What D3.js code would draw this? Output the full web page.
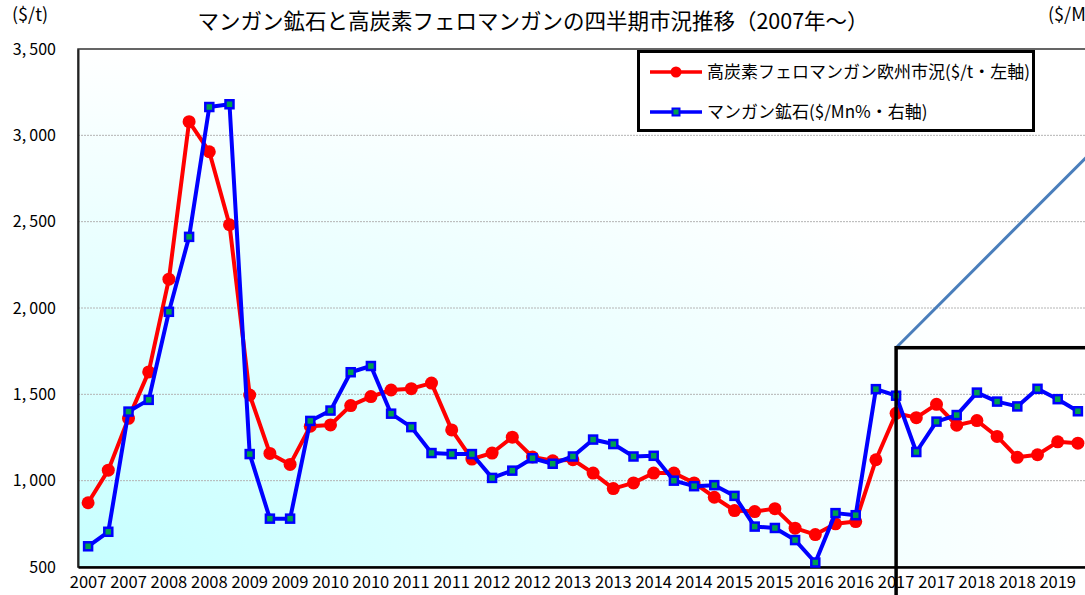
<!DOCTYPE html>
<html><head><meta charset="utf-8">
<script src="https://cdn.jsdelivr.net/npm/d3@7"></script>
<style>
html,body{margin:0;padding:0;overflow:hidden;background:#fff;}
text{font-family:"Noto Sans CJK JP","Noto Sans",sans-serif;fill:#000;}
</style></head>
<body>
<svg id="chart" width="1200" height="620"></svg>
<script>
// ---- data ----
const quarters = [
 "2007Q1","2007Q2","2007Q3","2007Q4","2008Q1","2008Q2","2008Q3","2008Q4",
 "2009Q1","2009Q2","2009Q3","2009Q4","2010Q1","2010Q2","2010Q3","2010Q4",
 "2011Q1","2011Q2","2011Q3","2011Q4","2012Q1","2012Q2","2012Q3","2012Q4",
 "2013Q1","2013Q2","2013Q3","2013Q4","2014Q1","2014Q2","2014Q3","2014Q4",
 "2015Q1","2015Q2","2015Q3","2015Q4","2016Q1","2016Q2","2016Q3","2016Q4",
 "2017Q1","2017Q2","2017Q3","2017Q4","2018Q1","2018Q2","2018Q3","2018Q4",
 "2019Q1","2019Q2"];
// High-carbon ferromanganese, Europe ($/t, left axis)
const feMn = [872,1061,1361,1630,2167,3079,2905,2482,1496,1158,1094,1315,
 1323,1435,1487,1525,1533,1565,1294,1125,1160,1252,1137,1115,1121,1044,954,987,
 1044,1044,987,904,827,821,838,725,688,750,763,1121,1390,1365,1442,1321,1348,
 1256,1135,1150,1225,1217];
// Manganese ore ($/Mn%, right axis)
const mnOre = [3.10,3.52,7.00,7.34,9.89,12.06,15.82,15.90,5.77,3.90,3.90,6.73,
 7.03,8.14,8.32,6.94,6.55,5.80,5.77,5.77,5.08,5.29,5.65,5.49,5.70,6.19,6.06,5.70,
 5.72,5.00,4.84,4.87,4.56,3.67,3.63,3.28,2.63,4.06,4.00,7.65,7.46,5.83,6.71,6.90,
 7.55,7.29,7.15,7.66,7.36,7.01];
const leftTicks = [500,1000,1500,2000,2500,3000,3500];
const rightTicks = [2.5,5,7.5,10,12.5,15,17.5];
const seriesNames = ["高炭素フェロマンガン欧州市況($/t・左軸)","マンガン鉱石($/Mn%・右軸)"];
const title = "マンガン鉱石と高炭素フェロマンガンの四半期市況推移（2007年～）";
// zoom call-out annotation (category index, left-axis value)
const calloutStart = [40, 1770];
const calloutEnd = [50.5, 3000];

// ---- layout ----
const M = {left:78, top:49, right:1088, bottom:567};
const svg = d3.select("#chart");

const x = d3.scaleBand().domain(quarters).range([M.left, M.right]).padding(0);
const bw = x.bandwidth();
const cx = q => x(q) + bw/2;
const xi = i => M.left + bw*(i+0.5);
const yL = d3.scaleLinear().domain([500,3500]).range([M.bottom, M.top]);
const yR = d3.scaleLinear().domain([2.5,17.5]).range([M.bottom, M.top]);

// background gradient
const defs = svg.append("defs");
const g = defs.append("radialGradient").attr("id","bg")
  .attr("cx",0).attr("cy",1).attr("r",1).attr("fx",0).attr("fy",1);
g.append("stop").attr("offset","0%").attr("stop-color","#c6ffff");
g.append("stop").attr("offset","100%").attr("stop-color","#ffffff");

svg.append("rect").attr("x",M.left).attr("y",M.top)
  .attr("width",M.right-M.left).attr("height",M.bottom-M.top)
  .attr("fill","url(#bg)");

// gridlines
svg.append("g").selectAll("line").data(leftTicks.filter(d=>d>500 && d<3500)).join("line")
  .attr("x1",M.left).attr("x2",M.right)
  .attr("y1",d=>yL(d)).attr("y2",d=>yL(d))
  .attr("stroke","#b4b4b4").attr("stroke-width",1).attr("stroke-dasharray","2,1");

// plot border
svg.append("rect").attr("x",M.left).attr("y",M.top)
  .attr("width",M.right-M.left).attr("height",M.bottom-M.top)
  .attr("fill","none").attr("stroke","#333").attr("stroke-width",1.5);

// left axis
const fmt = d => d3.format(",")(d).replace(",", ",\u2009");
const axL = svg.append("g").attr("transform",`translate(${M.left},0)`)
  .call(d3.axisLeft(yL).tickValues(leftTicks).tickSize(0).tickPadding(22).tickFormat(fmt));
axL.select(".domain").attr("stroke","#222").attr("stroke-width",2);
axL.selectAll("text").attr("font-size",16).attr("fill","#111");

// right axis (its labels lie beyond the cropped edge, as in the reference)
const axR = svg.append("g").attr("transform",`translate(${M.right},0)`)
  .call(d3.axisRight(yR).tickValues(rightTicks).tickSize(0).tickFormat(""));
axR.select(".domain").attr("stroke","#222").attr("stroke-width",2);

// bottom axis
const axB = svg.append("g").attr("transform",`translate(0,${M.bottom})`)
  .call(d3.axisBottom(x).tickValues(quarters.filter((q,i)=>i%2===0))
    .tickSize(0).tickPadding(9).tickFormat(q=>q.slice(0,4)));
axB.select(".domain").attr("stroke","#000").attr("stroke-width",2.5);
axB.selectAll("text").attr("font-size",16.5).attr("fill","#111");

// series
const lineL = d3.line().x((d,i)=>cx(quarters[i])).y(d=>yL(d));
const lineR = d3.line().x((d,i)=>cx(quarters[i])).y(d=>yR(d));

svg.append("path").datum(feMn).attr("d",lineL)
  .attr("fill","none").attr("stroke","#ff0000").attr("stroke-width",4).attr("stroke-linejoin","round");
svg.append("g").selectAll("circle").data(feMn).join("circle")
  .attr("cx",(d,i)=>cx(quarters[i])).attr("cy",d=>yL(d)).attr("r",6.5).attr("fill","#ff0000");

svg.append("path").datum(mnOre).attr("d",lineR)
  .attr("fill","none").attr("stroke","#0000ff").attr("stroke-width",4).attr("stroke-linejoin","round");
svg.append("g").selectAll("rect").data(mnOre).join("rect")
  .attr("x",(d,i)=>cx(quarters[i])-4).attr("y",d=>yR(d)-4)
  .attr("width",8).attr("height",8)
  .attr("fill","#00a050").attr("stroke","#0000ff").attr("stroke-width",2.5);

// title & axis titles
svg.append("text").attr("x",533).attr("y",29).attr("text-anchor","middle")
  .attr("font-size",21.5).attr("fill","#111").text(title);
svg.append("text").attr("x",12).attr("y",21).attr("font-size",18).attr("fill","#111").text("($/t)");
svg.append("text").attr("x",1048).attr("y",21).attr("font-size",18).attr("fill","#111").text("($/Mn%)");

// legend
const lg = svg.append("g");
lg.append("rect").attr("x",638.5).attr("y",51.5).attr("width",395).attr("height",79)
  .attr("fill","#fff").attr("stroke","#000").attr("stroke-width",3);
const legItems = [
  {name:seriesNames[0], color:"#ff0000", type:"circle"},
  {name:seriesNames[1], color:"#0000ff", type:"rect"}];
legItems.forEach((d,i)=>{
  const yy = 72 + i*40;
  lg.append("line").attr("x1",650).attr("x2",702).attr("y1",yy).attr("y2",yy)
    .attr("stroke",d.color).attr("stroke-width",3.5);
  if(d.type==="circle") lg.append("circle").attr("cx",676).attr("cy",yy).attr("r",5.5).attr("fill",d.color);
  else lg.append("rect").attr("x",672.5).attr("y",yy-3.5).attr("width",7).attr("height",7)
    .attr("fill","#00a050").attr("stroke",d.color).attr("stroke-width",2);
  lg.append("text").attr("x",707).attr("y",yy+6).attr("font-size",17).attr("fill","#111").text(d.name);
});

// call-out annotation
const ax0 = xi(calloutStart[0]), ay0 = yL(calloutStart[1]);
svg.append("line").attr("x1",ax0).attr("y1",ay0)
  .attr("x2",xi(calloutEnd[0])).attr("y2",yL(calloutEnd[1]))
  .attr("stroke","#4a7ebb").attr("stroke-width",3);
svg.append("rect").attr("x",ax0).attr("y",ay0).attr("width",400).attr("height",400)
  .attr("fill","none").attr("stroke","#000").attr("stroke-width",3.5);
</script>
</body></html>
